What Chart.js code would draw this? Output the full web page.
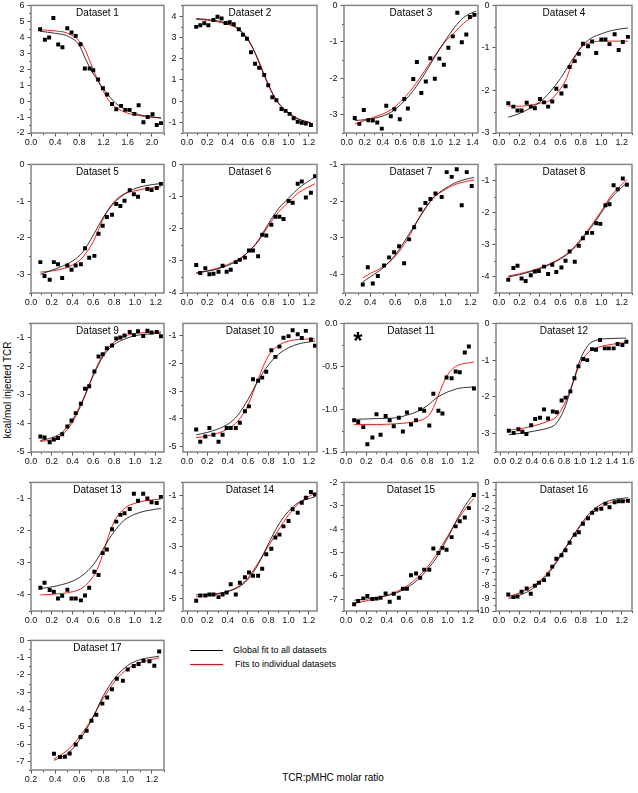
<!DOCTYPE html>
<html>
<head>
<meta charset="utf-8">
<script src="https://cdn.jsdelivr.net/npm/chart.js@4.4.1/dist/chart.umd.min.js"></script>
<style>
  body { margin: 0; background: #fff; font-family: "Liberation Sans", Arial, sans-serif; }
  #page { position: relative; width: 638px; height: 793px; overflow: hidden; }
  canvas { position: absolute; }
  .txt { position: absolute; white-space: nowrap; color: #000; }
  .leg-line { position: absolute; height: 1px; width: 33px; }
</style>
</head>
<body>
<div id="page">
  <div class="txt" style="left:7px;top:390px;font-size:10px;transform:translate(-50%,-50%) rotate(-90deg);">kcal/mol injected TCR</div>
  <div class="txt" style="left:333px;top:777px;font-size:10px;transform:translate(-50%,-50%);">TCR:pMHC molar ratio</div>
  <div class="leg-line" style="left:190px;top:650px;background:#000;"></div>
  <div class="txt" style="left:233px;top:645px;font-size:9px;line-height:10px;">Global fit to all datasets</div>
  <div class="leg-line" style="left:190px;top:664px;background:#ff0000;"></div>
  <div class="txt" style="left:235px;top:659px;font-size:9px;line-height:10px;">Fits to individual datasets</div>
</div>
<script>
// tick labels
const xTicks1 = [0.0, 0.4, 0.8, 1.2, 1.6, 2.0];
const xTicksA = [0.0, 0.2, 0.4, 0.6, 0.8, 1.0, 1.2];
const xTicks3 = [0.0, 0.2, 0.4, 0.6, 0.8, 1.0, 1.2, 1.4];
const xTicks7 = [0.2, 0.4, 0.6, 0.8, 1.0, 1.2];
const xTicks12 = [0.0, 0.2, 0.4, 0.6, 0.8, 1.0, 1.2, 1.4, 1.6];
const yTicks1 = [-2, -1, 0, 1, 2, 3, 4, 5, 6];
const yTicks2 = [-1, 0, 1, 2, 3, 4];
const yTicks3 = [-3, -2, -1, 0];
const yTicks6 = [-4, -3, -2, -1, 0];
const yTicks7 = [-4, -3, -2, -1];
const yTicks9 = [-5, -4, -3, -2, -1];
const yTicks11 = [-1.5, -1.0, -0.5, 0.0];
const yTicks15 = [-7, -6, -5, -4, -3, -2];
const yTicks16 = [-10, -9, -8, -7, -6, -5, -4, -3, -2, -1, 0];
const yTicks17 = [-7, -6, -5, -4, -3, -2, -1, 0];

// Dataset 1
const p1x = [0.15,0.23,0.30,0.37,0.45,0.52,0.60,0.67,0.74,0.82,0.89,0.97,1.03,1.11,1.19,1.26,1.34,1.41,1.49,1.56,1.63,1.71,1.78,1.86,1.93,2.01,2.08,2.15];
const p1y = [4.51,3.84,3.99,5.21,3.55,3.37,4.57,4.30,4.09,3.57,2.04,2.04,1.94,1.36,0.80,0.42,-0.18,-0.51,-0.30,-0.55,-0.55,-0.80,-0.26,-1.32,-1.00,-0.82,-1.50,-1.38];
const f1x = [0.15,0.4,0.6,0.8,0.9,1.0,1.1,1.2,1.3,1.4,1.6,1.8,2.0,2.15];
const g1 = [4.38,4.25,4.08,3.49,2.66,1.90,1.32,0.74,0.28,-0.13,-0.59,-0.86,-1.00,-1.07];
const r1 = [4.47,4.40,4.26,3.76,3.18,2.25,1.36,0.59,-0.03,-0.38,-0.76,-0.92,-1.00,-1.05];
// Dataset 2
const p2x = [0.09,0.13,0.17,0.21,0.26,0.30,0.34,0.38,0.42,0.46,0.51,0.55,0.59,0.63,0.67,0.71,0.76,0.80,0.84,0.88,0.93,0.97,1.01,1.05,1.09,1.13,1.17,1.22];
const p2y = [3.49,3.57,3.66,3.57,3.81,3.97,3.88,3.67,3.71,3.61,3.38,3.12,2.93,2.30,1.76,1.57,1.23,0.75,0.18,0.04,-0.37,-0.46,-0.60,-0.81,-0.97,-1.02,-1.06,-1.12];
const f2x = [0.09,0.2,0.3,0.4,0.5,0.6,0.65,0.7,0.75,0.8,0.85,0.9,1.0,1.1,1.22];
const g2 = [3.88,3.84,3.77,3.64,3.43,2.92,2.48,1.91,1.32,0.75,0.28,-0.10,-0.57,-0.85,-1.02];
const r2 = [3.85,3.80,3.73,3.61,3.40,2.87,2.46,1.96,1.38,0.80,0.30,-0.08,-0.55,-0.84,-1.03];
// Dataset 3
const p3x = [0.09,0.14,0.19,0.24,0.29,0.34,0.39,0.44,0.49,0.53,0.59,0.64,0.68,0.74,0.78,0.83,0.88,0.93,0.98,1.03,1.08,1.13,1.18,1.23,1.28,1.33,1.37,1.42];
const p3y = [-3.09,-3.25,-2.87,-3.15,-3.16,-3.21,-3.38,-2.75,-3.04,-2.85,-3.12,-2.57,-2.83,-2.02,-1.55,-2.40,-2.09,-1.45,-2.01,-1.46,-1.63,-1.16,-0.85,-0.20,-1.01,-0.80,-0.32,-0.26];
const f3x = [0.09,0.3,0.5,0.7,0.8,0.9,1.0,1.1,1.2,1.3,1.44];
const g3 = [-3.16,-3.10,-2.92,-2.46,-2.13,-1.74,-1.33,-0.95,-0.60,-0.33,-0.15];
const r3 = [-3.25,-3.07,-2.85,-2.37,-2.04,-1.67,-1.31,-0.98,-0.74,-0.49,-0.25];
// Dataset 4
const p4x = [0.09,0.14,0.18,0.22,0.27,0.31,0.35,0.40,0.44,0.48,0.52,0.56,0.61,0.65,0.69,0.74,0.78,0.82,0.87,0.91,0.95,1.00,1.04,1.08,1.13,1.17,1.21,1.26];
const p4y = [-2.30,-2.38,-2.47,-2.47,-2.29,-2.38,-2.42,-2.20,-2.28,-2.38,-2.26,-1.96,-2.07,-1.90,-1.45,-1.31,-1.14,-0.90,-0.96,-0.85,-1.12,-0.80,-0.80,-0.91,-0.68,-1.05,-0.86,-0.74];
const f4x = [0.09,0.2,0.4,0.5,0.6,0.65,0.7,0.75,0.8,0.9,1.0,1.1,1.26];
const g4 = [-2.63,-2.54,-2.27,-2.03,-1.72,-1.53,-1.34,-1.16,-0.99,-0.77,-0.67,-0.59,-0.53];
const r4 = [-2.37,-2.37,-2.30,-2.23,-1.96,-1.77,-1.45,-1.18,-0.99,-0.87,-0.84,-0.84,-0.84];
// Dataset 5
const p5x = [0.09,0.13,0.18,0.22,0.26,0.30,0.35,0.39,0.43,0.48,0.52,0.56,0.61,0.65,0.69,0.73,0.78,0.82,0.86,0.90,0.95,0.99,1.03,1.08,1.12,1.16,1.21,1.25];
const p5y = [-2.66,-3.04,-3.14,-2.66,-2.72,-3.09,-2.75,-2.87,-2.75,-2.72,-2.28,-2.54,-2.49,-1.89,-1.67,-1.43,-1.37,-1.08,-1.13,-0.99,-0.70,-0.81,-0.88,-0.45,-0.67,-0.70,-0.64,-0.53];
const f5x = [0.09,0.2,0.4,0.5,0.6,0.65,0.7,0.8,0.9,1.0,1.1,1.25];
const g5 = [-2.99,-2.88,-2.63,-2.38,-1.92,-1.67,-1.42,-1.05,-0.81,-0.66,-0.58,-0.52];
const r5 = [-2.93,-2.90,-2.74,-2.52,-2.10,-1.78,-1.45,-1.01,-0.80,-0.72,-0.66,-0.61];
// Dataset 6
const p6x = [0.09,0.13,0.18,0.22,0.26,0.31,0.35,0.39,0.43,0.48,0.52,0.57,0.61,0.65,0.70,0.74,0.78,0.83,0.87,0.91,0.95,1.00,1.04,1.09,1.13,1.17,1.22,1.26];
const p6y = [-3.13,-3.38,-3.23,-3.42,-3.40,-3.34,-3.15,-3.34,-3.28,-3.04,-2.97,-2.90,-2.68,-2.68,-2.86,-2.19,-2.21,-1.88,-1.63,-1.63,-1.70,-1.14,-1.19,-0.60,-0.53,-1.03,-0.88,-0.37];
const f6x = [0.09,0.3,0.5,0.6,0.7,0.8,0.9,1.0,1.1,1.26];
const g6 = [-3.38,-3.25,-2.99,-2.73,-2.37,-1.85,-1.38,-1.05,-0.74,-0.39];
const r6 = [-3.38,-3.23,-2.96,-2.73,-2.40,-1.92,-1.49,-1.17,-0.88,-0.60];
// Dataset 7
const p7x = [0.34,0.38,0.42,0.46,0.51,0.55,0.59,0.63,0.67,0.71,0.75,0.80,0.84,0.88,0.92,0.97,1.01,1.05,1.09,1.13,1.17,1.21];
const p7y = [-4.27,-3.80,-4.24,-4.04,-3.75,-3.53,-3.39,-3.23,-3.69,-3.04,-2.71,-2.23,-2.05,-1.94,-1.79,-1.89,-1.21,-1.34,-1.13,-2.11,-1.21,-1.59];
const f7x = [0.34,0.4,0.5,0.6,0.7,0.8,0.9,1.0,1.1,1.23];
const g7 = [-4.20,-4.06,-3.82,-3.46,-2.95,-2.41,-1.92,-1.65,-1.47,-1.35];
const r7 = [-4.09,-3.97,-3.79,-3.50,-3.02,-2.39,-1.92,-1.68,-1.52,-1.42];
// Dataset 8
const p8x = [0.09,0.14,0.18,0.22,0.26,0.31,0.35,0.39,0.44,0.48,0.52,0.56,0.61,0.65,0.69,0.74,0.78,0.82,0.86,0.91,0.95,0.99,1.04,1.08,1.12,1.16,1.21,1.25];
const p8y = [-4.09,-3.72,-3.65,-4.05,-4.13,-3.95,-3.83,-3.82,-3.68,-3.91,-3.62,-3.85,-3.71,-3.50,-3.21,-3.53,-3.03,-2.80,-2.63,-2.63,-2.33,-2.35,-1.77,-1.74,-1.15,-1.27,-0.94,-1.13];
const f8x = [0.09,0.2,0.4,0.6,0.7,0.8,0.9,1.0,1.1,1.25];
const g8 = [-4.00,-3.93,-3.74,-3.44,-3.21,-2.87,-2.46,-2.00,-1.53,-1.07];
const r8 = [-3.97,-3.90,-3.72,-3.42,-3.18,-2.82,-2.41,-1.95,-1.46,-0.97];
// Dataset 9
const p9x = [0.09,0.13,0.18,0.22,0.26,0.30,0.35,0.39,0.43,0.48,0.52,0.56,0.61,0.65,0.69,0.73,0.78,0.82,0.86,0.90,0.95,0.99,1.03,1.08,1.12,1.16,1.21,1.25];
const p9y = [-4.46,-4.49,-4.66,-4.56,-4.51,-4.38,-4.11,-3.90,-3.64,-3.31,-2.79,-2.70,-2.18,-1.66,-1.58,-1.37,-1.27,-1.03,-0.99,-0.92,-0.80,-0.91,-0.77,-0.94,-0.76,-0.82,-0.80,-0.95];
const f9x = [0.09,0.2,0.3,0.4,0.5,0.6,0.7,0.8,0.9,1.0,1.25];
const g9 = [-4.60,-4.50,-4.31,-3.87,-3.17,-2.32,-1.62,-1.24,-1.05,-0.93,-0.84];
const r9 = [-4.63,-4.57,-4.39,-3.96,-3.21,-2.28,-1.55,-1.16,-0.95,-0.86,-0.80];
// Dataset 10
const p10x = [0.09,0.13,0.18,0.22,0.26,0.31,0.35,0.39,0.43,0.48,0.52,0.57,0.61,0.65,0.70,0.74,0.78,0.83,0.87,0.91,0.95,1.00,1.04,1.09,1.13,1.17,1.22,1.26];
const p10y = [-4.39,-4.83,-4.64,-4.33,-4.58,-4.83,-4.58,-4.33,-4.33,-4.33,-4.14,-3.73,-3.55,-2.57,-2.62,-2.51,-2.30,-1.52,-1.76,-1.39,-1.07,-1.01,-0.80,-0.94,-1.08,-0.82,-1.13,-1.36];
const f10x = [0.09,0.2,0.4,0.5,0.6,0.7,0.8,0.9,1.0,1.1,1.26];
const g10 = [-4.58,-4.49,-4.20,-3.87,-3.30,-2.62,-2.06,-1.67,-1.43,-1.29,-1.19];
const r10 = [-4.68,-4.62,-4.37,-4.08,-3.51,-2.56,-1.73,-1.35,-1.19,-1.13,-1.11];
// Dataset 11
const p11x = [0.08,0.12,0.17,0.21,0.26,0.30,0.34,0.39,0.43,0.47,0.52,0.56,0.60,0.64,0.69,0.73,0.77,0.82,0.86,0.91,0.95,0.99,1.04,1.08,1.12,1.17,1.21,1.26];
const p11y = [-1.13,-1.15,-1.21,-1.41,-1.33,-1.06,-1.30,-1.08,-1.13,-1.20,-1.10,-1.26,-1.04,-1.18,-1.13,-1.00,-1.02,-1.19,-0.82,-1.02,-1.05,-0.63,-0.64,-0.56,-0.57,-0.34,-0.27,-0.76];
const f11x = [0.08,0.3,0.5,0.6,0.7,0.8,0.85,0.9,0.95,1.0,1.05,1.1,1.26];
const g11 = [-1.12,-1.11,-1.10,-1.07,-1.03,-0.96,-0.91,-0.86,-0.83,-0.80,-0.78,-0.76,-0.74];
const r11 = [-1.18,-1.18,-1.17,-1.16,-1.14,-1.09,-1.01,-0.87,-0.72,-0.60,-0.53,-0.49,-0.45];
// Dataset 12
const p12x = [0.11,0.17,0.23,0.28,0.33,0.39,0.44,0.50,0.55,0.60,0.66,0.71,0.77,0.82,0.88,0.93,0.98,1.04,1.09,1.15,1.20,1.25,1.31,1.36,1.42,1.47,1.53,1.58];
const p12y = [-2.92,-2.98,-2.88,-2.95,-3.01,-2.77,-2.60,-2.57,-2.34,-2.59,-2.40,-2.42,-2.10,-2.02,-1.85,-1.49,-1.17,-0.97,-1.00,-0.70,-0.72,-0.45,-0.68,-0.68,-0.68,-0.56,-0.59,-0.50];
const f12x = [0.11,0.3,0.5,0.6,0.7,0.8,0.9,1.0,1.1,1.2,1.4,1.58];
const g12 = [-3.03,-2.98,-2.90,-2.85,-2.73,-2.35,-1.70,-1.00,-0.60,-0.46,-0.41,-0.40];
const r12 = [-2.91,-2.85,-2.74,-2.66,-2.55,-2.22,-1.68,-1.10,-0.80,-0.67,-0.57,-0.52];
// Dataset 13
const p13x = [0.09,0.13,0.18,0.22,0.26,0.30,0.35,0.39,0.43,0.48,0.52,0.56,0.61,0.65,0.69,0.73,0.78,0.82,0.86,0.90,0.95,0.99,1.03,1.08,1.12,1.16,1.21,1.25];
const p13y = [-3.78,-3.62,-3.85,-3.90,-4.11,-4.03,-3.84,-4.11,-4.11,-4.17,-4.02,-3.78,-3.28,-3.38,-2.70,-2.59,-1.96,-1.72,-1.51,-1.46,-1.33,-0.85,-1.07,-0.85,-1.00,-1.12,-1.14,-0.95];
const f13x = [0.09,0.2,0.4,0.5,0.6,0.65,0.7,0.75,0.8,0.9,1.0,1.1,1.25];
const g13 = [-3.80,-3.75,-3.57,-3.38,-3.06,-2.82,-2.54,-2.27,-2.03,-1.67,-1.49,-1.39,-1.31];
const r13 = [-4.00,-3.98,-3.90,-3.77,-3.42,-3.11,-2.64,-2.13,-1.72,-1.31,-1.15,-1.07,-1.02];
// Dataset 14
const p14x = [0.09,0.13,0.18,0.22,0.26,0.31,0.35,0.39,0.43,0.48,0.52,0.57,0.61,0.65,0.70,0.74,0.78,0.83,0.87,0.91,0.95,1.00,1.04,1.09,1.13,1.17,1.22,1.26];
const p14y = [-5.10,-4.90,-4.90,-4.86,-4.86,-4.96,-4.86,-4.78,-4.46,-4.86,-4.40,-4.19,-4.00,-4.13,-4.13,-3.86,-3.29,-3.08,-2.64,-2.53,-2.21,-2.00,-1.54,-1.68,-1.29,-1.10,-0.87,-0.97];
const f14x = [0.09,0.3,0.5,0.6,0.7,0.8,0.9,1.0,1.1,1.26];
const g14 = [-4.87,-4.82,-4.59,-4.27,-3.69,-2.90,-2.15,-1.62,-1.28,-1.06];
const r14 = [-4.95,-4.85,-4.56,-4.21,-3.63,-2.99,-2.35,-1.77,-1.32,-0.90];
// Dataset 15
const p15x = [0.08,0.12,0.17,0.21,0.26,0.30,0.34,0.39,0.43,0.47,0.52,0.56,0.60,0.64,0.69,0.73,0.77,0.82,0.86,0.91,0.95,0.99,1.04,1.08,1.12,1.17,1.21,1.26];
const p15y = [-7.21,-7.07,-6.96,-6.86,-6.99,-6.97,-6.93,-6.75,-7.10,-6.76,-6.93,-6.55,-6.55,-5.97,-5.90,-6.08,-5.73,-5.74,-4.83,-5.02,-4.80,-4.88,-4.34,-3.88,-3.66,-3.50,-3.10,-2.54];
const f15x = [0.08,0.3,0.5,0.6,0.7,0.8,0.9,1.0,1.1,1.2,1.26];
const g15 = [-7.04,-6.93,-6.72,-6.50,-6.19,-5.73,-5.16,-4.38,-3.53,-2.82,-2.47];
const r15 = [-7.18,-6.96,-6.67,-6.43,-6.08,-5.63,-5.02,-4.31,-3.60,-2.99,-2.68];
// Dataset 16
const p16x = [0.09,0.14,0.18,0.22,0.27,0.31,0.35,0.39,0.44,0.48,0.52,0.56,0.61,0.65,0.69,0.74,0.78,0.82,0.87,0.91,0.95,1.00,1.04,1.08,1.13,1.17,1.21,1.26];
const p16y = [-8.71,-8.92,-8.87,-8.51,-8.25,-8.66,-8.04,-7.81,-7.60,-7.16,-6.55,-5.93,-5.67,-5.28,-4.69,-4.07,-3.87,-3.22,-2.78,-2.37,-2.11,-2.06,-1.65,-1.93,-1.55,-1.47,-1.47,-1.42];
const f16x = [0.09,0.2,0.3,0.4,0.5,0.6,0.7,0.8,0.9,1.0,1.1,1.26];
const g16 = [-9.02,-8.78,-8.40,-7.78,-6.91,-5.75,-4.46,-3.25,-2.27,-1.70,-1.37,-1.19];
const r16 = [-8.87,-8.60,-8.20,-7.66,-6.78,-5.67,-4.46,-3.35,-2.47,-1.88,-1.55,-1.39];
// Dataset 17
const p17x = [0.39,0.44,0.48,0.52,0.57,0.61,0.66,0.70,0.74,0.79,0.83,0.87,0.91,0.96,1.00,1.05,1.09,1.13,1.18,1.22,1.26];
const p17y = [-6.56,-6.75,-6.73,-6.54,-6.02,-5.59,-5.23,-4.65,-4.30,-3.66,-3.30,-2.83,-2.22,-2.33,-1.68,-1.48,-1.37,-1.18,-1.21,-1.47,-0.64];
const f17x = [0.39,0.5,0.6,0.7,0.8,0.9,1.0,1.1,1.26];
const g17 = [-6.94,-6.56,-5.78,-4.63,-3.18,-2.12,-1.45,-1.12,-0.91];
const r17 = [-6.85,-6.36,-5.59,-4.57,-3.34,-2.31,-1.64,-1.29,-1.00];

const panels = [
  { t: "Dataset 1",  px: p1x,  py: p1y,  fx: f1x,  g: g1,  r: r1,  xr: [0, 2.2],      yr: [-2, 6],      xt: xTicks1,  yt: yTicks1 },
  { t: "Dataset 2",  px: p2x,  py: p2y,  fx: f2x,  g: g2,  r: r2,  xr: [-0.04, 1.28], yr: [-1.5, 4.5],  xt: xTicksA,  yt: yTicks2 },
  { t: "Dataset 3",  px: p3x,  py: p3y,  fx: f3x,  g: g3,  r: r3,  xr: [-0.03, 1.46], yr: [-3.5, 0],    xt: xTicks3,  yt: yTicks3 },
  { t: "Dataset 4",  px: p4x,  py: p4y,  fx: f4x,  g: g4,  r: r4,  xr: [-0.03, 1.3],  yr: [-3, 0],      xt: xTicksA,  yt: yTicks3 },
  { t: "Dataset 5",  px: p5x,  py: p5y,  fx: f5x,  g: g5,  r: r5,  xr: [0, 1.28],     yr: [-3.5, 0],    xt: xTicksA,  yt: yTicks3 },
  { t: "Dataset 6",  px: p6x,  py: p6y,  fx: f6x,  g: g6,  r: r6,  xr: [-0.04, 1.28], yr: [-4, 0],      xt: xTicksA,  yt: yTicks6 },
  { t: "Dataset 7",  px: p7x,  py: p7y,  fx: f7x,  g: g7,  r: r7,  xr: [0.19, 1.26],  yr: [-4.5, -1],   xt: xTicks7,  yt: yTicks7 },
  { t: "Dataset 8",  px: p8x,  py: p8y,  fx: f8x,  g: g8,  r: r8,  xr: [-0.03, 1.3],  yr: [-4.5, -0.5], xt: xTicksA,  yt: yTicks7 },
  { t: "Dataset 9",  px: p9x,  py: p9y,  fx: f9x,  g: g9,  r: r9,  xr: [0, 1.28],     yr: [-5, -0.5],   xt: xTicksA,  yt: yTicks9 },
  { t: "Dataset 10", px: p10x, py: p10y, fx: f10x, g: g10, r: r10, xr: [-0.04, 1.28], yr: [-5.2, -0.55],xt: xTicksA,  yt: yTicks9 },
  { t: "Dataset 11", px: p11x, py: p11y, fx: f11x, g: g11, r: r11, xr: [-0.02, 1.3],  yr: [-1.5, 0],    xt: xTicksA,  yt: yTicks11, dec: 1, star: true },
  { t: "Dataset 12", px: p12x, py: p12y, fx: f12x, g: g12, r: r12, xr: [-0.05, 1.65], yr: [-3.5, 0],    xt: xTicks12, yt: yTicks3 },
  { t: "Dataset 13", px: p13x, py: p13y, fx: f13x, g: g13, r: r13, xr: [0, 1.28],     yr: [-4.5, -0.5], xt: xTicksA,  yt: yTicks7 },
  { t: "Dataset 14", px: p14x, py: p14y, fx: f14x, g: g14, r: r14, xr: [-0.04, 1.28], yr: [-5.5, -0.5], xt: xTicksA,  yt: yTicks9 },
  { t: "Dataset 15", px: p15x, py: p15y, fx: f15x, g: g15, r: r15, xr: [-0.02, 1.3],  yr: [-7.5, -2],   xt: xTicksA,  yt: yTicks15 },
  { t: "Dataset 16", px: p16x, py: p16y, fx: f16x, g: g16, r: r16, xr: [-0.03, 1.3],  yr: [-10, 0],     xt: xTicksA,  yt: yTicks16 },
  { t: "Dataset 17", px: p17x, py: p17y, fx: f17x, g: g17, r: r17, xr: [0.2, 1.3],    yr: [-7.5, 0],    xt: xTicks7,  yt: yTicks17 }
];

// plot box edges in page pixels
const colL = [31, 183, 344, 496], colR = [164, 317, 478, 632];
const rowT = [5, 164, 323, 482, 640], rowB = [133, 293, 452, 611, 770];
const AXW = 30, PADT = 8, PADR = 12, AXH = 18;
const FONT = '"Liberation Sans", Arial, sans-serif';

// frame, minor ticks, panel title
const deco = {
  id: "deco",
  afterDraw(chart, args, opts) {
    const { ctx, chartArea: a, scales } = chart;
    ctx.save();
    ctx.strokeStyle = "#555";
    ctx.lineWidth = 1;
    ["x", "y"].forEach(id => {
      const s = scales[id];
      const v = s.ticks.map(t => t.value);
      const step = v[1] - v[0];
      for (let m = v[0] - step / 2; m <= s.max + 1e-9; m += step) {
        if (m < s.min - 1e-9) continue;
        const p = Math.round(s.getPixelForValue(m)) + 0.5;
        ctx.beginPath();
        if (id === "x") { ctx.moveTo(p, a.bottom); ctx.lineTo(p, a.bottom + 2); }
        else { ctx.moveTo(a.left, p); ctx.lineTo(a.left - 2, p); }
        ctx.stroke();
      }
    });
    ctx.strokeStyle = "#858585";
    ctx.lineWidth = 1.5;
    ctx.strokeRect(a.left, a.top, a.right - a.left, a.bottom - a.top);
    ctx.fillStyle = "#000";
    ctx.font = "10px " + FONT;
    ctx.textAlign = "center";
    ctx.textBaseline = "middle";
    ctx.fillText(opts.title, (a.left + a.right) / 2, a.top + 8);
    if (opts.star) {
      ctx.font = "bold 24px " + FONT;
      ctx.textBaseline = "alphabetic";
      ctx.fillText("*", a.left + 14, a.top + 26);
    }
    ctx.restore();
  }
};

const page = document.getElementById("page");

panels.forEach((p, i) => {
  const L = colL[i % 4], R = colR[i % 4];
  const T = rowT[Math.floor(i / 4)], B = rowB[Math.floor(i / 4)];
  const cv = document.createElement("canvas");
  const w = R - L + AXW + PADR, h = B - T + PADT + AXH;
  cv.width = w; cv.height = h;
  cv.style.left = (L - AXW) + "px";
  cv.style.top = (T - PADT) + "px";
  cv.style.width = w + "px"; cv.style.height = h + "px";
  page.appendChild(cv);

  const pts = p.px.map((x, k) => ({ x, y: p.py[k] }));
  const glob = p.fx.map((x, k) => ({ x, y: p.g[k] }));
  const ind = p.fx.map((x, k) => ({ x, y: p.r[k] }));
  const dec = p.dec || 0;

  const axisBase = {
    type: "linear",
    border: { display: false },
    grid: { drawOnChartArea: false, drawTicks: true, tickLength: 3.5, tickColor: "#555", lineWidth: 1 },
    ticks: { color: "#111", font: { size: 9, family: FONT }, autoSkip: false, maxRotation: 0, minRotation: 0 }
  };

  new Chart(cv, {
    type: "scatter",
    data: {
      datasets: [
        { data: pts, pointStyle: "rect", pointRadius: 2.8, pointBackgroundColor: "#000", pointBorderWidth: 0 },
        { data: glob, showLine: true, borderColor: "#000", borderWidth: 0.8, pointRadius: 0, cubicInterpolationMode: "monotone" },
        { data: ind, showLine: true, borderColor: "#ff0000", borderWidth: 0.9, pointRadius: 0, cubicInterpolationMode: "monotone" }
      ]
    },
    options: {
      responsive: false,
      animation: false,
      devicePixelRatio: 1,
      layout: { padding: { left: 0, top: PADT, right: PADR, bottom: 0 } },
      plugins: { legend: { display: false }, tooltip: { enabled: false }, deco: { title: p.t, star: !!p.star } },
      scales: {
        x: Object.assign({}, axisBase, {
          min: p.xr[0], max: p.xr[1],
          afterBuildTicks: s => { s.ticks = p.xt.map(v => ({ value: v })); },
          afterFit: s => { s.height = AXH; },
          ticks: Object.assign({}, axisBase.ticks, { padding: 1, callback: v => v.toFixed(1) })
        }),
        y: Object.assign({}, axisBase, {
          min: p.yr[0], max: p.yr[1],
          afterBuildTicks: s => { s.ticks = p.yt.map(v => ({ value: v })); },
          afterFit: s => { s.width = AXW; },
          ticks: Object.assign({}, axisBase.ticks, { padding: 3, callback: v => v.toFixed(dec) })
        })
      }
    },
    plugins: [deco]
  });
});
</script>
</body>
</html>
